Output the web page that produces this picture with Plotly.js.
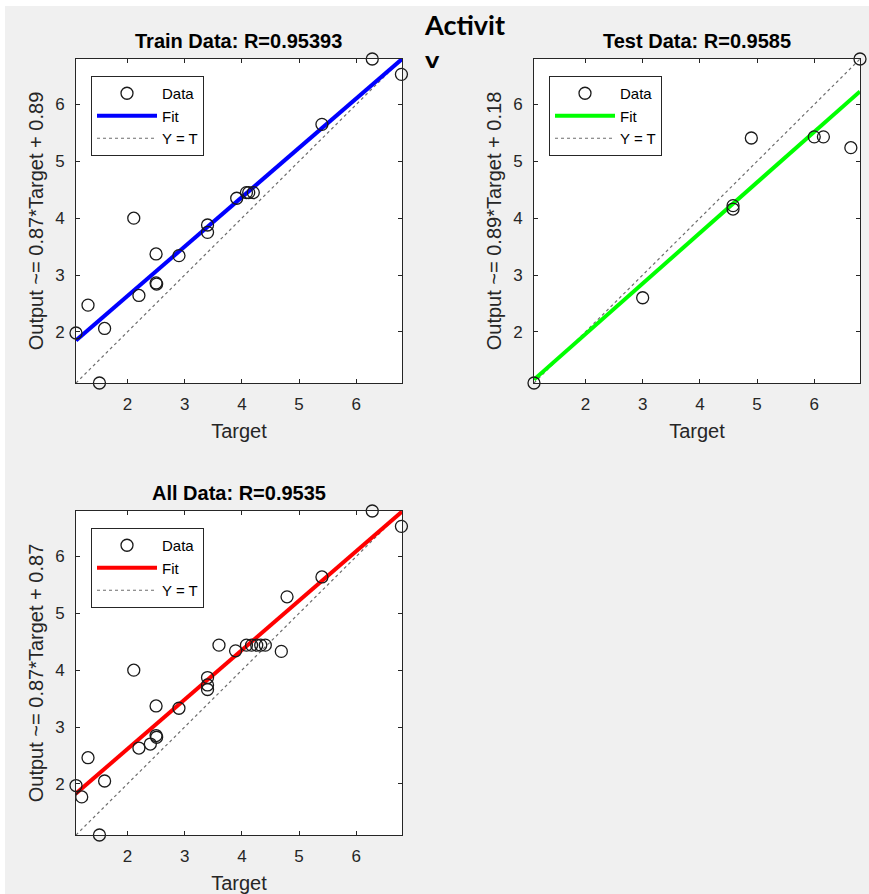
<!DOCTYPE html>
<html>
<head>
<meta charset="utf-8">
<script src="https://cdn.plot.ly/plotly-3.0.1.min.js"></script>
<style>
  html, body { margin: 0; padding: 0; background: #ffffff; }
  #chart { position: absolute; left: 5px; top: 6px; width: 864px; height: 888px; }
  #clip { position: absolute; left: 418px; top: 68px; width: 40px; height: 14px; background: #f0f0f0; }
</style>
</head>
<body>
<div id="chart"></div>
<div id="clip"></div>
<script>
// ---- data ----
const trainTarget = [6.28, 6.79, 5.40, 3.91, 4.08, 4.12, 4.20, 3.40, 3.40, 2.11, 2.50, 2.90, 2.50, 2.51, 2.20, 1.31, 1.10, 1.60, 1.51];
const trainOutput = [6.80, 6.53, 5.65, 4.35, 4.45, 4.45, 4.45, 3.88, 3.75, 4.00, 3.37, 3.34, 2.86, 2.84, 2.64, 2.47, 1.98, 2.06, 1.10];

const testTarget = [6.80, 1.10, 3.00, 4.58, 4.58, 4.90, 6.00, 6.16, 6.64];
const testOutput = [6.80, 1.10, 2.60, 4.22, 4.16, 5.41, 5.43, 5.43, 5.24];

const allTarget = [6.28, 6.79, 5.40, 4.79, 3.60, 3.89, 4.08, 4.17, 4.26, 4.33, 4.41, 4.69, 3.40, 3.40, 3.40, 2.11, 2.50, 2.90, 2.50, 2.51, 2.40, 2.20, 1.31, 1.10, 1.20, 1.60, 1.51];
const allOutput = [6.80, 6.53, 5.64, 5.29, 4.44, 4.34, 4.44, 4.44, 4.44, 4.44, 4.44, 4.33, 3.87, 3.74, 3.66, 4.00, 3.37, 3.33, 2.85, 2.82, 2.70, 2.63, 2.46, 1.97, 1.77, 2.05, 1.10];

const fitX = [1.1, 6.8];
const trainFitY = [1.85, 6.80];
const testFitY = [1.16, 6.23];
const allFitY = [1.83, 6.79];
const identityX = [1.1, 6.8];
const identityY = [1.1, 6.8];

const panelTitles = ['Train Data: R=0.95393', 'Test Data: R=0.9585', 'All Data: R=0.9535'];
const yLabels = ['Output ~= 0.87*Target + 0.89', 'Output ~= 0.89*Target + 0.18', 'Output ~= 0.87*Target + 0.87'];
const xLabel = 'Target';
const legendNames = ['Data', 'Fit', 'Y = T'];
const fitColors = ['#0000ff', '#00ff00', '#ff0000'];
const headerText = 'Activit<br>y';

// ---- build ----
const FONT = 'Liberation Sans, Arial, sans-serif';
const W = 864, H = 888;
const panels = [
  {t: trainTarget, o: trainOutput, f: trainFitY, xa: 'x', ya: 'y', leg: 'legend'},
  {t: testTarget, o: testOutput, f: testFitY, xa: 'x2', ya: 'y2', leg: 'legend2'},
  {t: allTarget, o: allOutput, f: allFitY, xa: 'x3', ya: 'y3', leg: 'legend3'}
];

const traces = [];
panels.forEach((p, i) => {
  traces.push({
    x: identityX, y: identityY, xaxis: p.xa, yaxis: p.ya, legend: p.leg,
    type: 'scatter', mode: 'lines', name: legendNames[2], legendrank: 3,
    line: {color: '#6e6e6e', width: 1.2, dash: 'dot'}
  });
  traces.push({
    x: fitX, y: p.f, xaxis: p.xa, yaxis: p.ya, legend: p.leg,
    type: 'scatter', mode: 'lines', name: legendNames[1], legendrank: 2,
    line: {color: fitColors[i], width: 4}
  });
  traces.push({
    x: p.t, y: p.o, xaxis: p.xa, yaxis: p.ya, legend: p.leg,
    type: 'scatter', mode: 'markers', name: legendNames[0], legendrank: 1,
    cliponaxis: false,
    marker: {symbol: 'circle-open', size: 12, color: '#1a1a1a', line: {width: 1.3, color: '#1a1a1a'}}
  });
});

// panel pixel boxes (inside the chart div)
const boxes = [
  {x0: 71, x1: 397, y0: 53, y1: 377},
  {x0: 529, x1: 855, y0: 53, y1: 377},
  {x0: 71, x1: 397, y0: 505, y1: 829}
];
const ids = [['y', 'x'], ['y2', 'x2'], ['y3', 'x3']];

function xaxis(b, i) {
  return {
    anchor: ids[i][0],
    domain: [b.x0 / W, b.x1 / W], range: [1.1, 6.8], dtick: 1, tick0: 0,
    ticks: 'inside', ticklen: 4, tickcolor: '#262626', tickwidth: 1,
    showline: true, linecolor: '#262626', linewidth: 1, mirror: 'ticks',
    showgrid: false, zeroline: false, automargin: false, fixedrange: true,
    tickfont: {family: FONT, size: 17, color: '#262626'}, ticklabelstandoff: 6,
    title: {text: xLabel, font: {family: FONT, size: 20, color: '#262626'}, standoff: 10}
  };
}
function yaxis(b, i) {
  return {
    anchor: ids[i][1],
    domain: [1 - b.y1 / H, 1 - b.y0 / H], range: [1.1, 6.8], dtick: 1, tick0: 0,
    ticks: 'inside', ticklen: 4, tickcolor: '#262626', tickwidth: 1,
    showline: true, linecolor: '#262626', linewidth: 1, mirror: 'ticks',
    showgrid: false, zeroline: false, automargin: false, fixedrange: true,
    tickfont: {family: FONT, size: 17, color: '#262626'}, ticklabelstandoff: 7,
    title: {text: yLabels[i], font: {family: FONT, size: 20, color: '#262626'}, standoff: 6}
  };
}
function legend(b) {
  return {
    x: (b.x0 + 15) / W, y: 1 - (b.y0 + 17) / H, xanchor: 'left', yanchor: 'top',
    bgcolor: '#ffffff', bordercolor: '#262626', borderwidth: 1,
    font: {family: FONT, size: 15, color: '#000000'},
    itemwidth: 60, tracegroupgap: 0
  };
}

const annotations = panelTitles.map((t, i) => ({
  text: '<b>' + t + '</b>', xref: 'paper', yref: 'paper',
  x: (boxes[i].x0 + boxes[i].x1) / 2 / W, y: 1 - (boxes[i].y0 - 18) / H,
  xanchor: 'center', yanchor: 'middle', showarrow: false,
  font: {family: FONT, size: 20, color: '#000000'}
}));
annotations.push({
  text: '<b>' + headerText + '</b>', xref: 'paper', yref: 'paper',
  x: 417 / W, y: 1 - 0 / H, xanchor: 'left', yanchor: 'top', align: 'left',
  showarrow: false, font: {family: 'Lato, Open Sans, sans-serif', size: 27, color: '#000000'}
});

const layout = {
  width: W, height: H,
  margin: {l: 0, r: 0, t: 0, b: 0},
  paper_bgcolor: '#f0f0f0', plot_bgcolor: '#ffffff',
  showlegend: true,
  xaxis: xaxis(boxes[0], 0), yaxis: yaxis(boxes[0], 0),
  xaxis2: xaxis(boxes[1], 1), yaxis2: yaxis(boxes[1], 1),
  xaxis3: xaxis(boxes[2], 2), yaxis3: yaxis(boxes[2], 2),
  legend: legend(boxes[0]), legend2: legend(boxes[1]), legend3: legend(boxes[2]),
  annotations: annotations
};

Plotly.newPlot('chart', traces, layout, {displayModeBar: false, staticPlot: true});
</script>
</body>
</html>
